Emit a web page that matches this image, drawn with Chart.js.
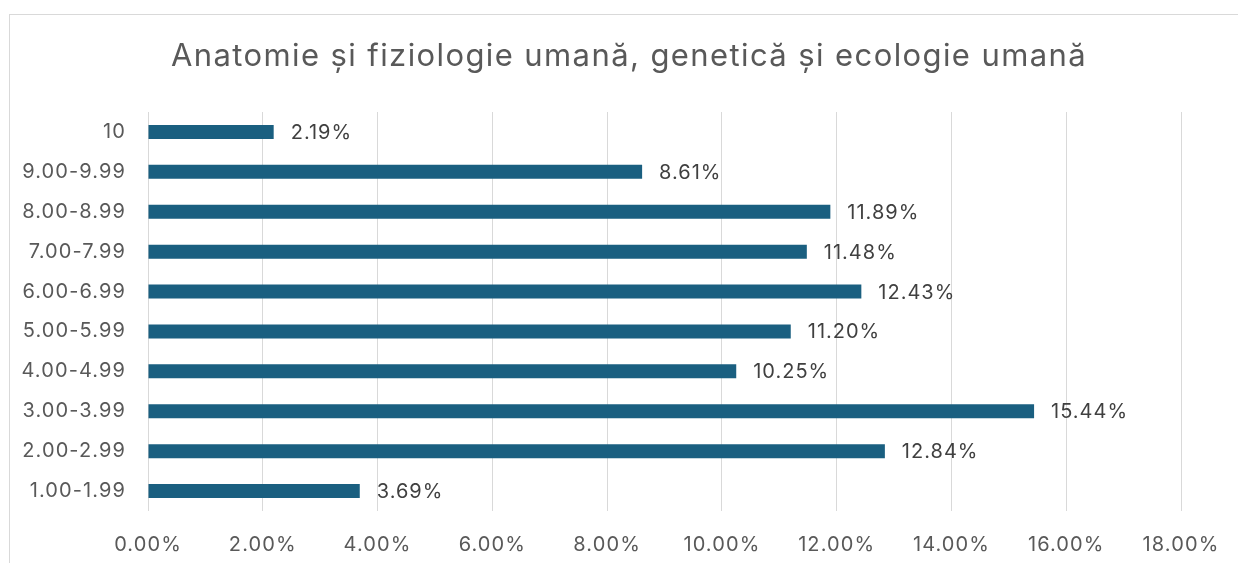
<!DOCTYPE html>
<html>
<head>
<meta charset="utf-8">
<script src="https://cdn.jsdelivr.net/npm/chart.js@4"></script>
<style>
html,body{margin:0;padding:0;background:#fff;overflow:hidden;}
#frame{position:absolute;left:9px;top:14px;width:1240px;height:560px;border:1px solid #d9d9d9;box-sizing:border-box;}
#wrap{position:absolute;left:10px;top:15px;width:1238px;height:548px;}
</style>
</head>
<body>
<div id="frame"></div>
<div id="wrap"><canvas id="c" width="1238" height="548"></canvas></div>
<script>
const categories = ["10","9.00-9.99","8.00-8.99","7.00-7.99","6.00-6.99","5.00-5.99","4.00-4.99","3.00-3.99","2.00-2.99","1.00-1.99"];
const shares = [2.19, 8.61, 11.89, 11.48, 12.43, 11.20, 10.25, 15.44, 12.84, 3.69];
const xMin = 0, xMax = 18, xStep = 2;
const titleText = "Anatomie și fiziologie umană, genetică și ecologie umană";

const FONT = "Inter, 'Liberation Sans', sans-serif";

const spacing = {
  id: 'spacing',
  beforeDraw(chart) { chart.ctx.letterSpacing = '1.1px'; }
};

const valueLabels = {
  id: 'valueLabels',
  afterDatasetsDraw(chart) {
    const ctx = chart.ctx;
    const meta = chart.getDatasetMeta(0);
    ctx.save();
    ctx.letterSpacing = '1.0px';
    ctx.font = "20px " + FONT;
    ctx.fillStyle = "#404040";
    ctx.textAlign = "left";
    ctx.textBaseline = "middle";
    meta.data.forEach((bar, i) => {
      ctx.fillText(shares[i].toFixed(2) + "%", bar.x + 17, bar.y + 1);
    });
    ctx.restore();
  }
};

const centeredTitle = {
  id: 'centeredTitle',
  afterDraw(chart) {
    const ctx = chart.ctx;
    ctx.save();
    ctx.letterSpacing = '1.4px';
    ctx.font = "31px " + FONT;
    ctx.fillStyle = "#595959";
    ctx.textAlign = "center";
    ctx.textBaseline = "middle";
    ctx.fillText(titleText, chart.width / 2, 42);
    ctx.restore();
  }
};

new Chart(document.getElementById('c'), {
  type: 'bar',
  data: {
    labels: categories,
    datasets: [{
      data: shares,
      backgroundColor: '#1a5f80',
      borderWidth: 0,
      barPercentage: 0.7,
      categoryPercentage: 0.5
    }]
  },
  options: {
    indexAxis: 'y',
    responsive: false,
    animation: false,
    devicePixelRatio: 1,
    layout: { padding: { left: 0, right: 67, top: 97, bottom: 0 } },
    plugins: {
      legend: { display: false },
      tooltip: { enabled: false },
      title: { display: false }
    },
    scales: {
      x: {
        min: xMin, max: xMax,
        border: { display: false },
        grid: { color: '#d9d9d9', lineWidth: 1, drawTicks: false },
        ticks: {
          stepSize: xStep,
          padding: 22,
          color: '#595959',
          font: { family: FONT, size: 20 },
          callback: v => Number(v).toFixed(2) + "%"
        },
        afterFit(s) { s.height = 52; }
      },
      y: {
        border: { display: false },
        grid: { display: false, drawTicks: false },
        ticks: {
          padding: 22,
          color: '#595959',
          font: { family: FONT, size: 20 }
        },
        afterFit(s) { s.width = 138; }
      }
    }
  },
  plugins: [spacing, valueLabels, centeredTitle]
});
</script>
</body>
</html>
